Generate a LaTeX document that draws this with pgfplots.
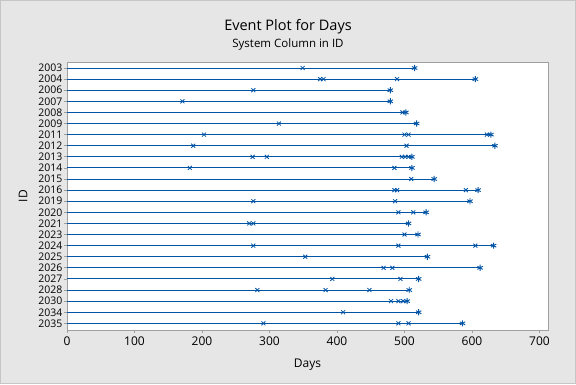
\documentclass[border=0pt]{standalone}
\usepackage{pgfplots}
\pgfplotsset{compat=1.18}
\usepackage{pgfplotstable}
\usepackage{fontspec}
\setmainfont{Open Sans}
\definecolor{mblue}{RGB}{0,84,166}
\definecolor{bg}{RGB}{230,230,230}
\definecolor{frm}{RGB}{160,160,160}
\pgfplotstableread{
row end
0 515
1 605
2 479
3 479
4 502
5 518
6 628
7 634
8 511
9 511
10 544
11 609
12 597
13 532
14 506
15 520
16 632
17 534
18 612
19 521
20 507
21 504
22 521
23 586
}\ends
\pgfplotstableread{
row ev
0 349
1 375
1 380
1 489
2 276
3 171
4 497
5 314
6 203
6 500
6 506
6 622
7 187
7 503
8 275
8 296
8 496
8 501
8 506
9 182
9 485
10 510
11 485
11 489
11 591
12 276
12 486
13 491
13 513
14 270
14 276
15 500
16 276
16 491
16 605
17 353
18 469
18 482
19 393
19 494
20 282
20 383
20 448
21 480
21 491
21 498
22 409
23 291
23 491
23 506
}\events
\begin{document}
\begin{tikzpicture}
\fill[bg] (0pt,0pt) rectangle (576pt,-384pt);
\draw[frm!60,line width=0.8pt] (0.4pt,-0.4pt) rectangle (575.6pt,-383.6pt);
\node[font=\fontsize{14.5}{16}\selectfont] at (288pt,-27pt) {Event Plot for Days};
\node[font=\fontsize{11.5}{13}\selectfont] at (288pt,-45pt) {System Column in ID};
\begin{axis}[
  at={(67pt,-330pt)}, anchor=south west,
  scale only axis, width=481pt, height=268pt,
  xmin=0, xmax=712.6, ymin=-0.54, ymax=23.6,
  y dir=reverse,
  ytick={0,...,23},
  yticklabels={2003,2004,2006,2007,2008,2009,2011,2012,2013,2014,2015,2016,2019,2020,2021,2023,2024,2025,2026,2027,2028,2030,2034,2035},
  xtick={0,100,...,700},
  xtick pos=left, ytick pos=left,
  tick align=outside, major tick length=3pt,
  axis background/.style={fill=white},
  axis line style={draw=frm, line width=0.8pt},
  tick style={draw=frm, line width=0.8pt},
  xticklabel style={font=\fontsize{12}{14}\selectfont},
  yticklabel style={font=\fontsize{10.5}{12}\selectfont, inner sep=1.5pt},
  /pgf/number format/assume math mode=true,
  xlabel={Days}, ylabel={ID},
  label style={font=\fontsize{12}{14}\selectfont},
  xlabel style={yshift=-7pt},
  ylabel style={yshift=6pt},
  clip=false,
]
\addplot[xcomb, mblue, line width=1pt, mark=none] table[x=end,y=row] {\ends};
\addplot[only marks, mblue, mark=x, mark size=2.8pt, line width=0.8pt] table[x=ev,y=row] {\events};
\addplot[only marks, mblue, mark=asterisk, mark size=3.1pt, line width=0.9pt] table[x=end,y=row] {\ends};
\end{axis}
\end{tikzpicture}
\end{document}
